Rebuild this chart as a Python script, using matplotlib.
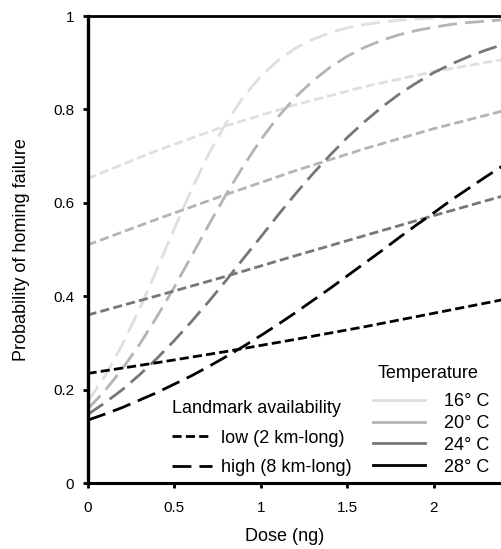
import matplotlib
matplotlib.use("Agg")
import matplotlib.pyplot as plt
from matplotlib.lines import Line2D

plt.rcParams['font.family'] = ['Liberation Sans', 'DejaVu Sans']

# ---------------- data ----------------
temperatures = ["16° C", "20° C", "24° C", "28° C"]
landmark_labels = ["low (2 km-long)", "high (8 km-long)"]

dose_low = [0.0, 0.4, 0.8, 1.2, 1.6, 2.0, 2.4]
low_16 = [0.652, 0.712, 0.765, 0.810, 0.849, 0.881, 0.907]
low_20 = [0.510, 0.565, 0.618, 0.669, 0.716, 0.759, 0.797]
low_24 = [0.360, 0.401, 0.443, 0.487, 0.530, 0.573, 0.615]
low_28 = [0.235, 0.258, 0.282, 0.308, 0.335, 0.364, 0.393]

dose_high = [0.0, 0.1, 0.2, 0.3, 0.4, 0.5, 0.6, 0.7, 0.8, 0.9, 1.0, 1.1, 1.2,
             1.3, 1.4, 1.5, 1.6, 1.7, 1.8, 1.9, 2.0, 2.1, 2.2, 2.3, 2.4]
high_16 = [0.174, 0.229, 0.296, 0.373, 0.457, 0.544, 0.628, 0.705, 0.771, 0.827,
           0.871, 0.905, 0.931, 0.950, 0.964, 0.975, 0.982, 0.987, 0.991, 0.9935,
           0.9954, 0.9968, 0.9977, 0.9984, 0.9989]
high_20 = [0.158, 0.198, 0.244, 0.297, 0.356, 0.419, 0.486, 0.553, 0.618, 0.679,
           0.735, 0.784, 0.826, 0.861, 0.890, 0.914, 0.933, 0.948, 0.960, 0.969,
           0.976, 0.982, 0.986, 0.989, 0.992]
high_24 = [0.147, 0.172, 0.200, 0.232, 0.267, 0.305, 0.346, 0.389, 0.434, 0.481,
           0.527, 0.574, 0.619, 0.662, 0.702, 0.740, 0.774, 0.805, 0.833, 0.857,
           0.879, 0.897, 0.913, 0.927, 0.939]
high_28 = [0.135, 0.148, 0.162, 0.178, 0.194, 0.212, 0.230, 0.250, 0.271, 0.293,
           0.316, 0.340, 0.365, 0.391, 0.417, 0.444, 0.471, 0.498, 0.526, 0.553,
           0.579, 0.606, 0.631, 0.656, 0.680]

x_ticks = [0, 0.5, 1, 1.5, 2]
x_tick_labels = ["0", "0.5", "1", "1.5", "2"]
y_ticks = [0, 0.2, 0.4, 0.6, 0.8, 1.0]
y_tick_labels = ["0", "0.2", "0.4", "0.6", "0.8", "1"]

# ---------------- styling ----------------
colors = ['#dfdfdf', '#b4b4b4', '#777777', '#000000']
short_dash = (0, (3.3, 1.5))
long_dash = (0, (6.8, 2.9))
lw = 2.0

W, H = 501, 549
fig = plt.figure(figsize=(W / 100, H / 100), dpi=100)
x0, x1 = 87.5, 501.0
y0, y1 = 483.3, 16.0
ax = fig.add_axes([x0 / W, (H - y0) / H, (x1 - x0) / W, (y0 - y1) / H])

def fx(px):
    return (px - x0) / (x1 - x0)

def fy(py):
    return (y0 - py) / (y0 - y1)

lows = [low_16, low_20, low_24, low_28]
highs = [high_16, high_20, high_24, high_28]
for c, lo, hi in zip(colors, lows, highs):
    ax.plot(dose_low, lo, color=c, lw=lw, linestyle=short_dash)
    ax.plot(dose_high, hi, color=c, lw=lw, linestyle=long_dash)

ax.set_xlim(0, (x1 - x0) / 173.2)
ax.set_ylim(0, 1)
ax.set_xticks(x_ticks)
ax.set_xticklabels(x_tick_labels)
ax.set_yticks(y_ticks)
ax.set_yticklabels(y_tick_labels)

ax.spines['right'].set_visible(False)
ax.spines['left'].set_linewidth(2.4)
ax.spines['bottom'].set_linewidth(2.2)
ax.spines['top'].set_linewidth(2.0)
ax.tick_params(direction='out', length=3.5, width=2, labelsize=11, pad=6)
ax.tick_params(axis='x', pad=9)

ax.set_xlabel("Dose (ng)", fontsize=13)
ax.set_ylabel("Probability of homing failure", fontsize=13)
ax.xaxis.set_label_coords(fx(285), fy(528))
ax.yaxis.set_label_coords(fx(30), 0.5)

# legend: landmark availability
h1 = [Line2D([], [], color='k', lw=lw, linestyle=short_dash),
      Line2D([], [], color='k', lw=lw, linestyle=long_dash)]
leg1 = ax.legend(h1, landmark_labels, title="Landmark availability",
                 loc='upper left', bbox_to_anchor=(fx(172), fy(400)),
                 frameon=False, borderpad=0, borderaxespad=0, handlelength=2.2,
                 handletextpad=0.5, labelspacing=0.7, fontsize=13, title_fontsize=13,
                 alignment='left')
ax.add_artist(leg1)

# legend: temperature
h2 = [Line2D([], [], color=c, lw=2.0) for c in colors]
leg2 = ax.legend(h2, temperatures,
                 loc='upper left', bbox_to_anchor=(fx(373), fy(393)),
                 frameon=False, borderpad=0, borderaxespad=0, handlelength=2.9,
                 handletextpad=1.05, labelspacing=0.27, fontsize=13)
ax.text(fx(428), fy(373), "Temperature", transform=ax.transAxes,
        ha='center', va='center', fontsize=13)

fig.savefig("out.png", dpi=100)
